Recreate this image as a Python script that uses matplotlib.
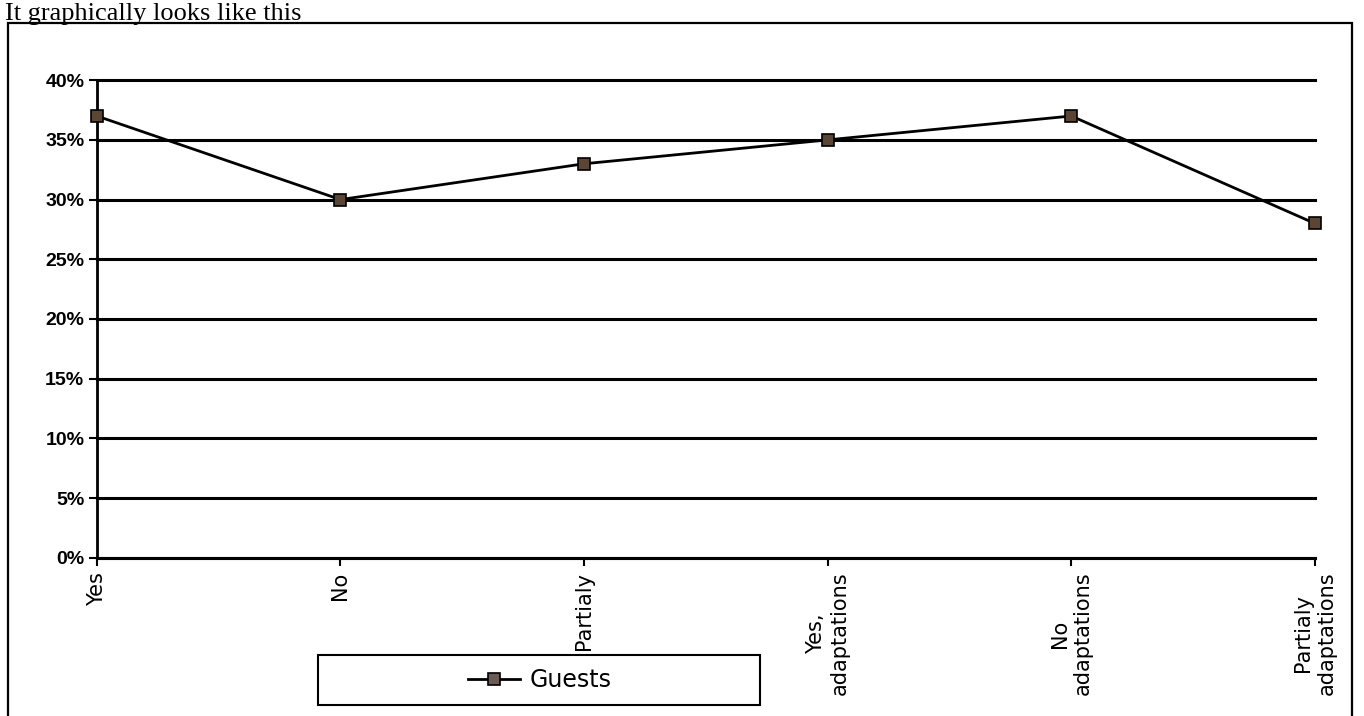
import matplotlib
matplotlib.use("Agg")
import matplotlib.pyplot as plt
from matplotlib.patches import Rectangle
from matplotlib.ticker import FuncFormatter, MultipleLocator

categories = ["Yes", "No", "Partialy", "Yes,\nadaptations", "No\nadaptations", "Partialy\nadaptations"]
guests = [0.37, 0.30, 0.33, 0.35, 0.37, 0.28]
series_name = "Guests"
heading = "It graphically looks like this"

fig = plt.figure(figsize=(13.64, 7.16), dpi=100)
fig.patch.set_facecolor("white")

# outer frame
fig.patches.append(Rectangle((0.006, -0.01), 0.985, 0.978, transform=fig.transFigure,
                             fill=False, edgecolor="black", linewidth=1.6))
fig.text(0.004, 0.996, heading, ha="left", va="top", fontsize=19,
         family="Liberation Serif")

ax = fig.add_axes([0.071, 0.221, 0.893, 0.667])
x = list(range(len(categories)))
ax.plot(x, guests, color="black", linewidth=2.0, marker="s", markersize=9,
        markerfacecolor="#5b4636", markeredgecolor="black", markeredgewidth=1.2,
        label=series_name, zorder=5, clip_on=False)

ax.set_xlim(0, len(categories) - 1)
ax.set_ylim(0, 0.40)
ax.yaxis.set_major_locator(MultipleLocator(0.05))
ax.yaxis.set_major_formatter(FuncFormatter(lambda v, p: f"{v*100:.0f}%"))
ax.grid(axis="y", color="black", linewidth=2.2)
for gl in ax.get_ygridlines():
    gl.set_clip_on(False)
ax.set_axisbelow(True)
for s in ["top", "right"]:
    ax.spines[s].set_visible(False)
ax.spines["left"].set_linewidth(2)
ax.spines["bottom"].set_linewidth(2.2)
ax.set_xticks(x)
ax.set_xticklabels(categories, rotation=90, fontsize=15, family="DejaVu Sans",
                   va="top", ha="center", multialignment="center")
for lab in ax.get_yticklabels():
    lab.set_fontweight("bold")
    lab.set_fontsize(14)
    lab.set_family("Liberation Sans")
ax.tick_params(axis="both", direction="out", length=6, width=1.5, color="black")
ax.tick_params(axis="y", pad=3)
ax.tick_params(axis="x", pad=4)

# legend box
fig.patches.append(Rectangle((0.233, 0.015), 0.324, 0.07, transform=fig.transFigure,
                             fill=False, edgecolor="black", linewidth=1.5))
leg = fig.legend(loc="center", bbox_to_anchor=(0.396, 0.05), frameon=False,
                 fontsize=17, handlelength=2.2, handletextpad=0.4, borderaxespad=0)
for h in leg.legend_handles:
    h.set_markerfacecolor("#6b5a55")

fig.savefig("out.png", dpi=100, facecolor="white")
